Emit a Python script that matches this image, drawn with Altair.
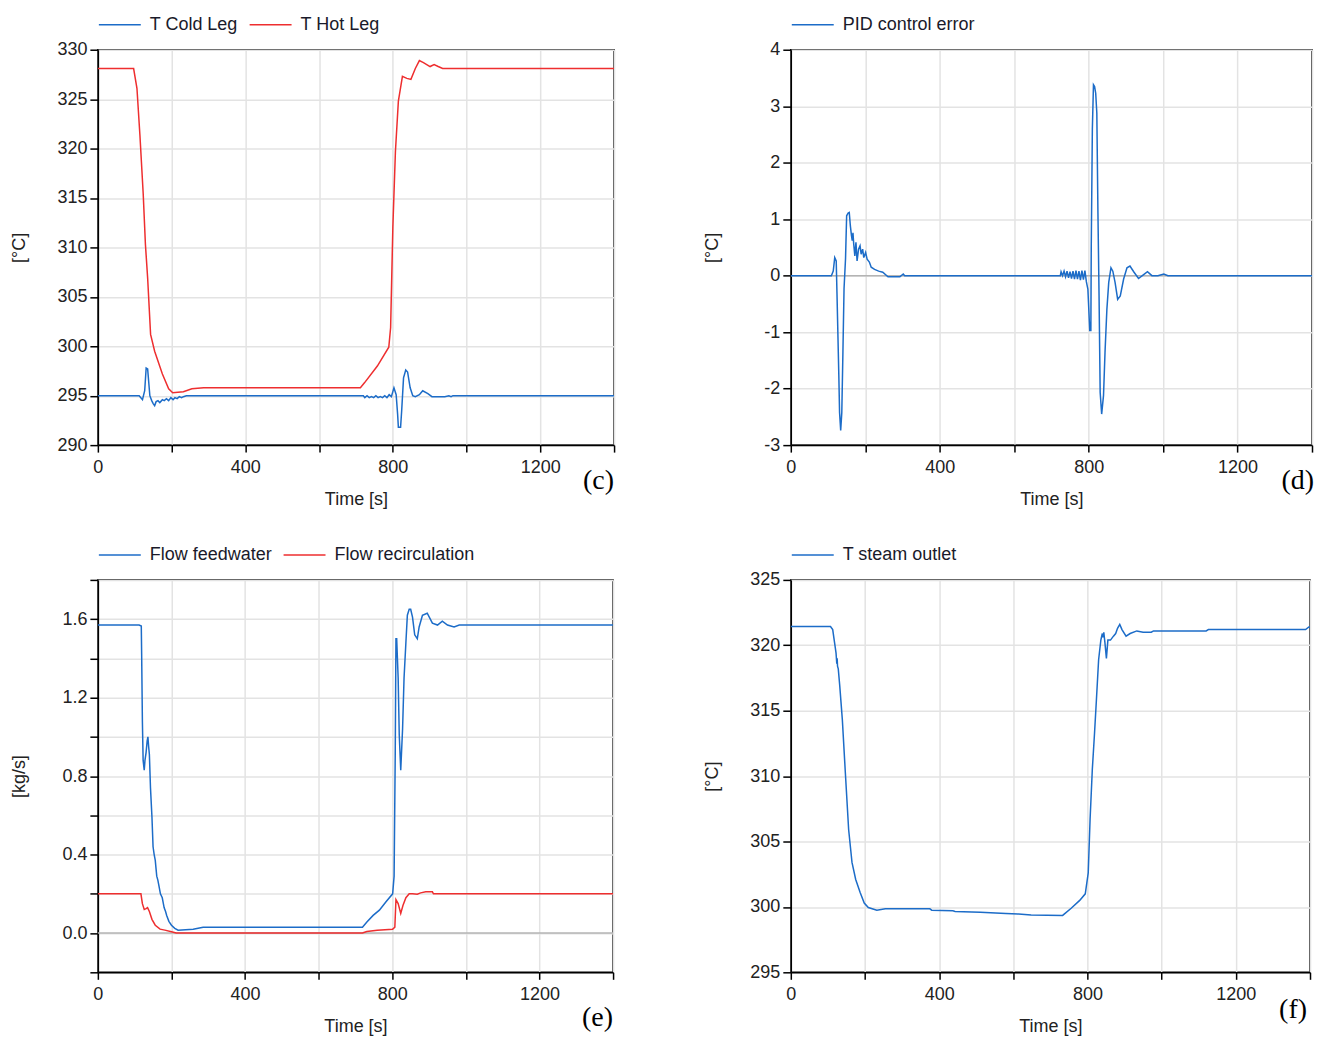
import altair as alt
import pandas as pd

FONT = "Liberation Sans"
BLUE = "#1C6CC8"
RED = "#EE2E2F"

x_ticks = [0, 200, 400, 600, 800, 1000, 1200, 1400]

# ---- panel (c) ----
c_names = ["T Cold Leg", "T Hot Leg"]
c_cold_t = [0, 112, 121, 127, 131, 135, 141, 146, 150, 154, 158, 163, 168, 175, 180, 186, 192, 198, 204, 209,
            215, 221, 227, 232, 240, 249, 720, 724, 730, 736, 742, 748, 754, 760, 766, 772, 778, 784, 790, 796,
            803, 809, 813, 815, 821, 824, 829, 835, 840, 847, 854, 861, 872, 881, 895, 906, 920, 941, 952, 958,
            963, 1400]
c_cold_v = [295.0, 295.0, 294.6, 295.5, 297.8, 297.7, 295.0, 294.5, 294.2, 294.0, 294.4, 294.5, 294.3, 294.6, 294.5, 294.7, 294.5, 294.8, 294.6, 294.8,
            294.7, 294.9, 294.8, 294.9, 295.0, 295.0, 295.0, 294.8, 295.0, 294.8, 294.9, 294.8, 295.0, 294.8, 294.9, 294.8, 295.0, 294.8, 295.1, 294.9,
            295.8, 295.1, 293.1, 291.8, 291.8, 293.5, 296.8, 297.6, 297.4, 295.8, 295.0, 294.9, 295.1, 295.5, 295.2, 294.9, 294.9, 294.9, 295.0, 294.9,
            295.0, 295.0]
c_hot_t = [0, 97, 106, 114, 123, 129, 135, 143, 154, 175, 192, 203, 232, 255, 287, 712, 723, 758, 789, 794,
           800, 807, 815, 826, 838, 849, 861, 872, 883, 901, 912, 923, 935, 1400]
c_hot_v = [328.1, 328.1, 326.1, 321.4, 315.4, 310.3, 306.9, 301.2, 299.5, 297.2, 295.7, 295.3, 295.4, 295.7, 295.8, 295.8, 296.3, 298.0, 299.9, 301.9,
           312.0, 319.7, 324.8, 327.3, 327.1, 327.0, 328.1, 328.9, 328.7, 328.3, 328.5, 328.3, 328.1, 328.1]
c_y_ticks = [290, 295, 300, 305, 310, 315, 320, 325, 330]

# ---- panel (d) ----
d_names = ["PID control error"]
d_t = [0, 109, 114, 118, 122, 124, 129, 131, 134, 137, 140, 143, 147, 150, 154, 157, 160, 163, 165, 167,
       169, 172, 175, 178, 182, 186, 189, 193, 196, 201, 205, 211, 216, 225, 236, 247, 261, 275, 293, 302,
       306, 724, 726, 730, 734, 738, 742, 746, 750, 754, 758, 762, 766, 770, 774, 778, 782, 786, 790, 794,
       798, 803, 806, 807, 810, 813, 816, 819, 822, 825, 828, 831, 835, 840, 844, 849, 854, 860, 865, 871,
       878, 885, 894, 903, 911, 922, 934, 946, 958, 970, 986, 1002, 1013, 1400]
d_v = [0, 0, 0.08, 0.32, 0.26, -0.30, -1.77, -2.42, -2.74, -2.42, -1.35, -0.23, 0.30, 1.06, 1.11, 1.12, 0.88, 0.71, 0.62, 0.76,
       0.56, 0.35, 0.59, 0.26, 0.47, 0.53, 0.38, 0.47, 0.32, 0.41, 0.29, 0.24, 0.15, 0.11, 0.08, 0.06, -0.02, -0.02, -0.02, 0.03,
       0, 0, 0.07, 0.0, 0.08, -0.02, 0.08, -0.04, 0.07, -0.05, 0.08, -0.06, 0.09, -0.06, 0.08, -0.08, 0.09, -0.07, 0.09, -0.11,
       -0.24, -0.97, -0.97, 0.47, 2.59, 3.38, 3.35, 3.23, 2.88, 1.11, -0.36, -2.07, -2.45, -2.12, -1.36, -0.60, -0.12, 0.14, 0.08, -0.12,
       -0.42, -0.36, -0.06, 0.14, 0.17, 0.06, -0.05, 0.01, 0.07, 0, 0, 0.03, 0, 0]
d_y_ticks = [-3, -2, -1, 0, 1, 2, 3, 4]

# ---- panel (e) ----
e_names = ["Flow feedwater", "Flow recirculation"]
e_feed_t = [0, 112, 118, 119, 121, 123, 126, 128, 131, 134, 136, 138, 140, 143, 147, 150, 153, 156, 158, 160,
            163, 166, 168, 170, 175, 178, 180, 184, 187, 193, 200, 209, 218, 259, 286, 719, 731, 748, 765, 783,
            801, 805, 808, 810, 812, 816, 819, 823, 828, 832, 837, 841, 846, 850, 855, 861, 868, 873, 882, 895,
            909, 923, 936, 950, 968, 982, 1400]
e_feed_v = [1.57, 1.57, 1.565, 1.42, 1.08, 0.88, 0.83, 0.88, 0.92, 0.98, 1.0, 0.95, 0.91, 0.74, 0.59, 0.44, 0.40, 0.37, 0.33, 0.29,
            0.27, 0.24, 0.22, 0.20, 0.18, 0.15, 0.13, 0.11, 0.09, 0.06, 0.04, 0.024, 0.015, 0.02, 0.03, 0.03, 0.056, 0.09, 0.117, 0.16,
            0.2, 0.29, 0.90, 1.50, 1.50, 1.30, 1.01, 0.83, 1.04, 1.30, 1.48, 1.62, 1.65, 1.65, 1.61, 1.52, 1.50, 1.56, 1.62, 1.63,
            1.58, 1.57, 1.59, 1.57, 1.56, 1.57, 1.57]
e_rec_t = [0, 117, 121, 126, 131, 135, 140, 147, 156, 169, 182, 200, 213, 719, 731, 759, 801, 807, 810, 816,
           823, 829, 837, 846, 855, 868, 877, 891, 909, 912, 1400]
e_rec_v = [0.2, 0.2, 0.15, 0.12, 0.125, 0.13, 0.11, 0.07, 0.04, 0.02, 0.015, 0.007, 0.0, 0.0, 0.008, 0.014, 0.02, 0.03, 0.17, 0.15,
           0.10, 0.14, 0.18, 0.20, 0.20, 0.198, 0.205, 0.21, 0.21, 0.2, 0.2]
e_y_ticks = [-0.2, 0.0, 0.2, 0.4, 0.6, 0.8, 1.0, 1.2, 1.4, 1.6, 1.8]

# ---- panel (f) ----
f_names = ["T steam outlet"]
f_t = [0, 107, 113, 118, 122, 124, 125, 126, 128, 132, 139, 147, 156, 165, 175, 187, 198, 209, 232, 255,
       375, 380, 437, 443, 511, 580, 614, 648, 733, 756, 779, 794, 802, 807, 813, 819, 824, 830, 836, 840,
       842, 844, 847, 851, 855, 862, 870, 876, 881, 887, 893, 904, 915, 933, 950, 972, 978, 1120, 1126, 1388,
       1397, 1400]
f_v = [321.44, 321.44, 321.2, 320.2, 319.4, 318.6, 319.0, 318.4, 318.2, 316.9, 314.3, 310.3, 305.9, 303.4, 302.1, 301.1, 300.3, 299.95, 299.75, 299.85,
       299.85, 299.75, 299.7, 299.65, 299.6, 299.5, 299.45, 299.38, 299.35, 299.9, 300.5, 301.0, 302.6, 306.7, 310.5, 313.3, 315.8, 318.9, 320.4, 320.9,
       320.6, 321.0, 320.2, 319.0, 320.4, 320.4, 320.7, 320.9, 321.3, 321.6, 321.2, 320.7, 320.9, 321.1, 321.0, 321.0, 321.1, 321.1, 321.2, 321.2,
       321.4, 321.4]
f_y_ticks = [295, 300, 305, 310, 315, 320, 325]

tags = ["(c)", "(d)", "(e)", "(f)"]


def make_df(series):
    frames = [pd.DataFrame({"t": t, "v": v, "series": name}) for name, t, v in series]
    return pd.concat(frames, ignore_index=True)


def panel(df, names, colors, y_domain, y_values, y_label_expr, y_title, tag, width, height,
          zero_line, tag_dx, tag_dy):
    x = alt.X("t:Q", scale=alt.Scale(domain=[0, 1400], nice=False, zero=False),
              axis=alt.Axis(values=x_ticks, labelFlush=False,
                            labelExpr="datum.value % 400 == 0 ? toString(datum.value) : ''",
                            title="Time [s]", titleY=54, titleBaseline="middle"))
    y = alt.Y("v:Q", scale=alt.Scale(domain=y_domain, nice=False, zero=False),
              axis=alt.Axis(values=y_values, labelExpr=y_label_expr, title=y_title,
                            titleX=-78, titleBaseline="middle"))
    color = alt.Color("series:N", scale=alt.Scale(domain=names, range=colors),
                      legend=alt.Legend(orient="none", legendX=0, legendY=-47, direction="horizontal",
                                        title=None, symbolType="stroke", symbolSize=1764,
                                        symbolStrokeWidth=1.5, labelFont=FONT, labelFontSize=18,
                                        labelColor="#1a1a2a", labelOffset=8, columnPadding=8,
                                        padding=0))
    layers = []
    if zero_line:
        layers.append(alt.Chart(pd.DataFrame({"v": [0.0]})).mark_rule(
            color="#b4b4b4", strokeWidth=1.5).encode(y=y))
    layers.append(alt.Chart(df).mark_line(strokeWidth=1.5, clip=True).encode(x=x, y=y, color=color))
    layers.append(alt.Chart(pd.DataFrame({"tag": [tag]})).mark_text(
        font="Liberation Serif", fontSize=28, align="right", baseline="middle", color="black"
    ).encode(x=alt.value(width + tag_dx), y=alt.value(height + tag_dy), text="tag:N"))
    return alt.layer(*layers).properties(width=width, height=height)


c_df = make_df([(c_names[0], c_cold_t, c_cold_v), (c_names[1], c_hot_t, c_hot_v)])
d_df = make_df([(d_names[0], d_t, d_v)])
e_df = make_df([(e_names[0], e_feed_t, e_feed_v), (e_names[1], e_rec_t, e_rec_v)])
f_df = make_df([(f_names[0], f_t, f_v)])

c = panel(c_df, c_names, [BLUE, RED], [290, 330], c_y_ticks, "datum.label", "[°C]", tags[0],
          517, 396, False, 0, 36)
d = panel(d_df, d_names, [BLUE], [-3, 4], d_y_ticks, "toString(datum.value)", "[°C]", tags[1],
          522, 396, True, 2, 36)
e = panel(e_df, e_names, [BLUE, RED], [-0.2, 1.8], e_y_ticks,
          "(round(datum.value*10) % 4 == 0 && datum.value >= 0 && datum.value < 1.7) ? format(datum.value, '.1f') : ''",
          "[kg/s]", tags[2], 516, 393, True, 0, 46)
f = panel(f_df, f_names, [BLUE], [295, 325], f_y_ticks, "datum.label", "[°C]", tags[3],
          520, 393, False, -3, 38)

chart = alt.concat(c, d, e, f, columns=2, spacing={"row": 135, "column": 177},
                   bounds="flush", align="each").resolve_scale(
    color="independent").resolve_legend(color="independent").properties(
    padding={"left": 2, "top": -7, "right": 0, "bottom": 0}, background="white"
).configure_view(stroke="black", strokeWidth=1.5).configure_axis(
    domainColor="black", domainWidth=1.5, tickColor="black", tickWidth=1.5,
    labelFont=FONT, labelFontSize=18, labelColor="#222222",
    titleFont=FONT, titleFontSize=18, titleFontWeight="normal", titleColor="#222222",
    gridColor="#e3e3e3", gridWidth=1.5
).configure_axisX(tickSize=7, labelPadding=6).configure_axisY(tickSize=8, labelPadding=3)

chart.save("out.html", embed_options={"renderer": "svg", "actions": False})
